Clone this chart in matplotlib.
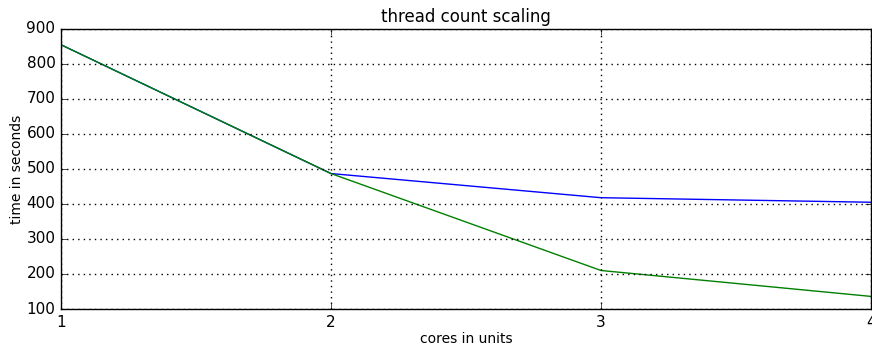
import matplotlib
matplotlib.use("Agg")
import matplotlib.pyplot as plt

plt.style.use("classic")

cores = [1, 2, 3, 4]
series_a = [855, 487, 418, 405]
series_b = [855, 487, 210, 136]
yticks = [100, 200, 300, 400, 500, 600, 700, 800, 900]
xticks = [1, 2, 3, 4]

fig = plt.figure(figsize=(8.72, 3.51), dpi=100)
fig.patch.set_facecolor("white")
ax = fig.add_axes([61/872, 1 - 309/351, (871-61)/872, (309-29)/351])
ax.plot(cores, series_a, color="b", lw=1)
ax.plot(cores, series_b, color="g", lw=1)
ax.set_xlim(1, 4)
ax.set_ylim(100, 900)
ax.set_xticks(xticks)
ax.set_yticks(yticks)
ax.tick_params(labelsize=11)
ax.grid(True, color="black", linestyle=":", linewidth=1)
ax.set_title("thread count scaling", fontsize=12)
ax.set_xlabel("cores in units", fontsize=10, labelpad=2)
ax.set_ylabel("time in seconds", fontsize=10, labelpad=2)
fig.savefig("out.png", dpi=100, facecolor="white")
